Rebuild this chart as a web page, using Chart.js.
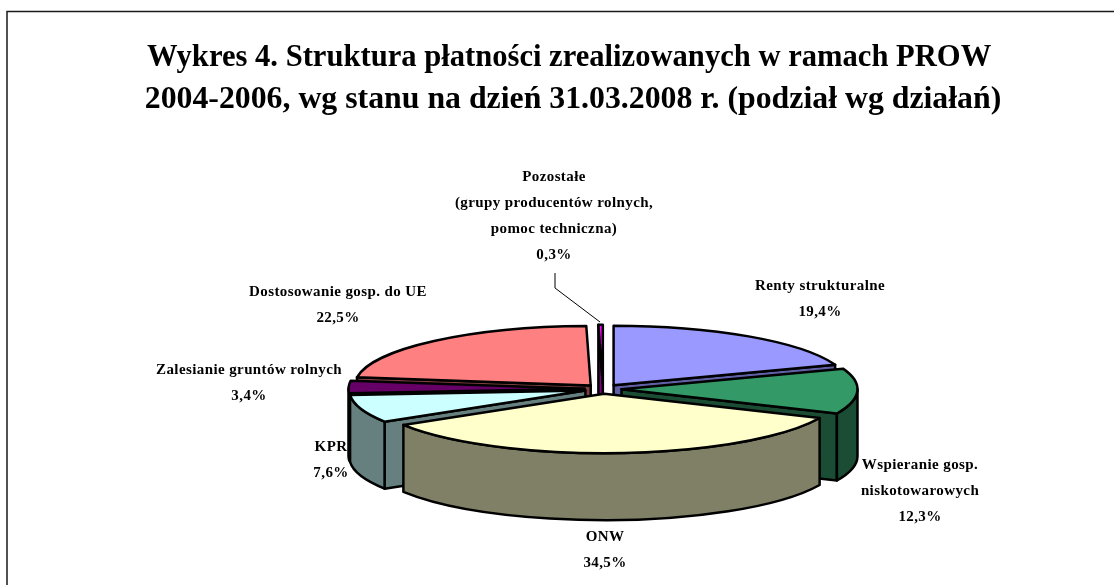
<!DOCTYPE html>
<html lang="pl">
<head>
<meta charset="utf-8">
<title>Wykres 4</title>
<script src="https://cdn.jsdelivr.net/npm/chart.js@4"></script>
<style>
    html, body { margin: 0; background: #ffffff; overflow: hidden; }
    #wrap { position: relative; width: 1114px; height: 585px; }
</style>
</head>
<body>
<div id="wrap"><canvas id="wykres"></canvas></div>
<script>
// dane
const dzialania = [
    "Renty strukturalne",
    "Wspieranie gosp. niskotowarowych",
    "ONW",
    "KPR",
    "Zalesianie gruntów rolnych",
    "Dostosowanie gosp. do UE",
    "Pozostałe (grupy producentów rolnych, pomoc techniczna)",
];
const udzialy = [19.4, 12.3, 34.5, 7.6, 3.4, 22.5, 0.3];
const etykiety = [
    ["Renty strukturalne", "19,4%"],
    ["Wspieranie gosp.", "niskotowarowych", "12,3%"],
    ["ONW", "34,5%"],
    ["KPR", "7,6%"],
    ["Zalesianie gruntów rolnych", "3,4%"],
    ["Dostosowanie gosp. do UE", "22,5%"],
    ["Pozostałe", "(grupy producentów rolnych,", "pomoc techniczna)", "0,3%"],
];
const tytulLinia1 = "Wykres 4. Struktura płatności zrealizowanych w ramach PROW ";
const tytulLinia2 = "2004-2006, wg stanu na dzień 31.03.2008 r. (podział wg działań)";

// style
const kolory = ["#9999ff", "#339966", "#ffffcc", "#ccffff", "#660066", "#ff8080", "#ff00ff"];
const kolorySciany = ["#6060a6", "#1a4d33", "#808066", "#668080", "#330033", "#804040", "#800080"];
const pozycjeEtykiet = [
    [820, 286], [920, 465], [605, 537], [331, 447], [249, 370], [338, 292], [554, 177],
];
const kolejnosc = [0, 6, 5, 4, 3, 1, 2];

// geometria "3D"
const srodekX = 603, srodekY = 389, promienX = 236, promienY = 59.5, glebokosc = 67;

function geometria(luk) {
    const polowa = (luk.startAngle + luk.endAngle) / 2;
    const odsun = luk.options.offset;
    return {
        x: srodekX + Math.cos(polowa) * odsun,
        y: srodekY + Math.sin(polowa) * odsun * promienY / promienX,
        a0: luk.startAngle,
        a1: luk.endAngle,
    };
}

function punkt(g, kat, dy) {
    return [g.x + Math.cos(kat) * promienX, g.y + Math.sin(kat) * promienY + dy];
}

function zamknij(ctx, kolor) {
    ctx.closePath();
    ctx.fillStyle = kolor;
    ctx.fill();
    ctx.stroke();
}

function scianaCiecia(ctx, g, kat, kolor) {
    const p = punkt(g, kat, 0);
    ctx.beginPath();
    ctx.moveTo(g.x, g.y);
    ctx.lineTo(p[0], p[1]);
    ctx.lineTo(p[0], p[1] + glebokosc);
    ctx.lineTo(g.x, g.y + glebokosc);
    zamknij(ctx, kolor);
}

// ściana zewnętrzna: tylko część widoczna z przodu (kąty 0..PI)
function scianaLuku(ctx, g, kolor) {
    for (let k = -2; k <= 2; k++) {
        const a = Math.max(g.a0, k * 2 * Math.PI);
        const b = Math.min(g.a1, k * 2 * Math.PI + Math.PI);
        if (b <= a) continue;
        ctx.beginPath();
        ctx.ellipse(g.x, g.y, promienX, promienY, 0, a, b);
        ctx.ellipse(g.x, g.y + glebokosc, promienX, promienY, 0, b, a, true);
        zamknij(ctx, kolor);
    }
}

const pieCiecie3d = {
    id: "pieCiecie3d",
    beforeDatasetsDraw(chart) {
        const ctx = chart.ctx;
        const luki = chart.getDatasetMeta(0).data;
        ctx.save();
        ctx.strokeStyle = "#000000";
        ctx.lineWidth = 2.5;
        ctx.lineJoin = "round";
        kolejnosc.forEach((i) => {
            const g = geometria(luki[i]);
            // ściany cięcia rysujemy tylko gdy są zwrócone do widza
            if (Math.cos(g.a0) < 0) scianaCiecia(ctx, g, g.a0, kolorySciany[i]);
            if (Math.cos(g.a1) > 0) scianaCiecia(ctx, g, g.a1, kolorySciany[i]);
            scianaLuku(ctx, g, kolorySciany[i]);
            ctx.beginPath();
            ctx.moveTo(g.x, g.y);
            ctx.ellipse(g.x, g.y, promienX, promienY, 0, g.a0, g.a1);
            zamknij(ctx, kolory[i]);
        });
        ctx.restore();
        return false;
    },
};

const etykietyPlugin = {
    id: "etykietyPlugin",
    afterDraw(chart) {
        const ctx = chart.ctx;
        ctx.save();
        // ramka: tylko lewa i górna krawędź mieszczą się w kadrze
        ctx.strokeStyle = "#1a1a1a";
        ctx.lineWidth = 1.5;
        ctx.beginPath();
        ctx.moveTo(7, 600);
        ctx.lineTo(7, 11.5);
        ctx.lineTo(1120, 11.5);
        ctx.stroke();
        // linia odniesienia do "Pozostałe"
        ctx.lineWidth = 1;
        ctx.strokeStyle = "#000000";
        ctx.beginPath();
        ctx.moveTo(555, 273);
        ctx.lineTo(555, 288);
        ctx.lineTo(600, 322);
        ctx.stroke();
        ctx.fillStyle = "#000000";
        ctx.font = "bold 15px 'Liberation Serif'";
        ctx.letterSpacing = "0.4px";
        ctx.textAlign = "center";
        ctx.textBaseline = "middle";
        etykiety.forEach((linie, i) => {
            const p = pozycjeEtykiet[i];
            linie.forEach((tekst, n) => ctx.fillText(tekst, p[0], p[1] + n * 26));
        });
        ctx.restore();
    },
};

new Chart(document.getElementById("wykres"), {
    type: "pie",
    data: {
        labels: dzialania,
        datasets: [
            {
                data: udzialy,
                backgroundColor: kolory,
                borderColor: "#000000",
                borderWidth: 2,
                offset: 18.5,
            },
        ],
    },
    options: {
        responsive: true,
        maintainAspectRatio: false,
        animation: false,
        layout: { padding: { left: 32 } },
        plugins: {
            legend: { display: false },
            tooltip: { enabled: false },
            title: {
                display: true,
                text: tytulLinia1,
                color: "#000000",
                font: { family: "'Liberation Serif'", size: 30.6, weight: "bold", lineHeight: 1.24 },
                padding: { top: 39, bottom: 4 },
            },
            subtitle: {
                display: true,
                text: tytulLinia2,
                color: "#000000",
                font: { family: "'Liberation Serif'", size: 31.8, weight: "bold", lineHeight: 1.2 },
                padding: { top: 0, bottom: 10 },
            },
        },
    },
    plugins: [pieCiecie3d, etykietyPlugin],
});
</script>
</body>
</html>
